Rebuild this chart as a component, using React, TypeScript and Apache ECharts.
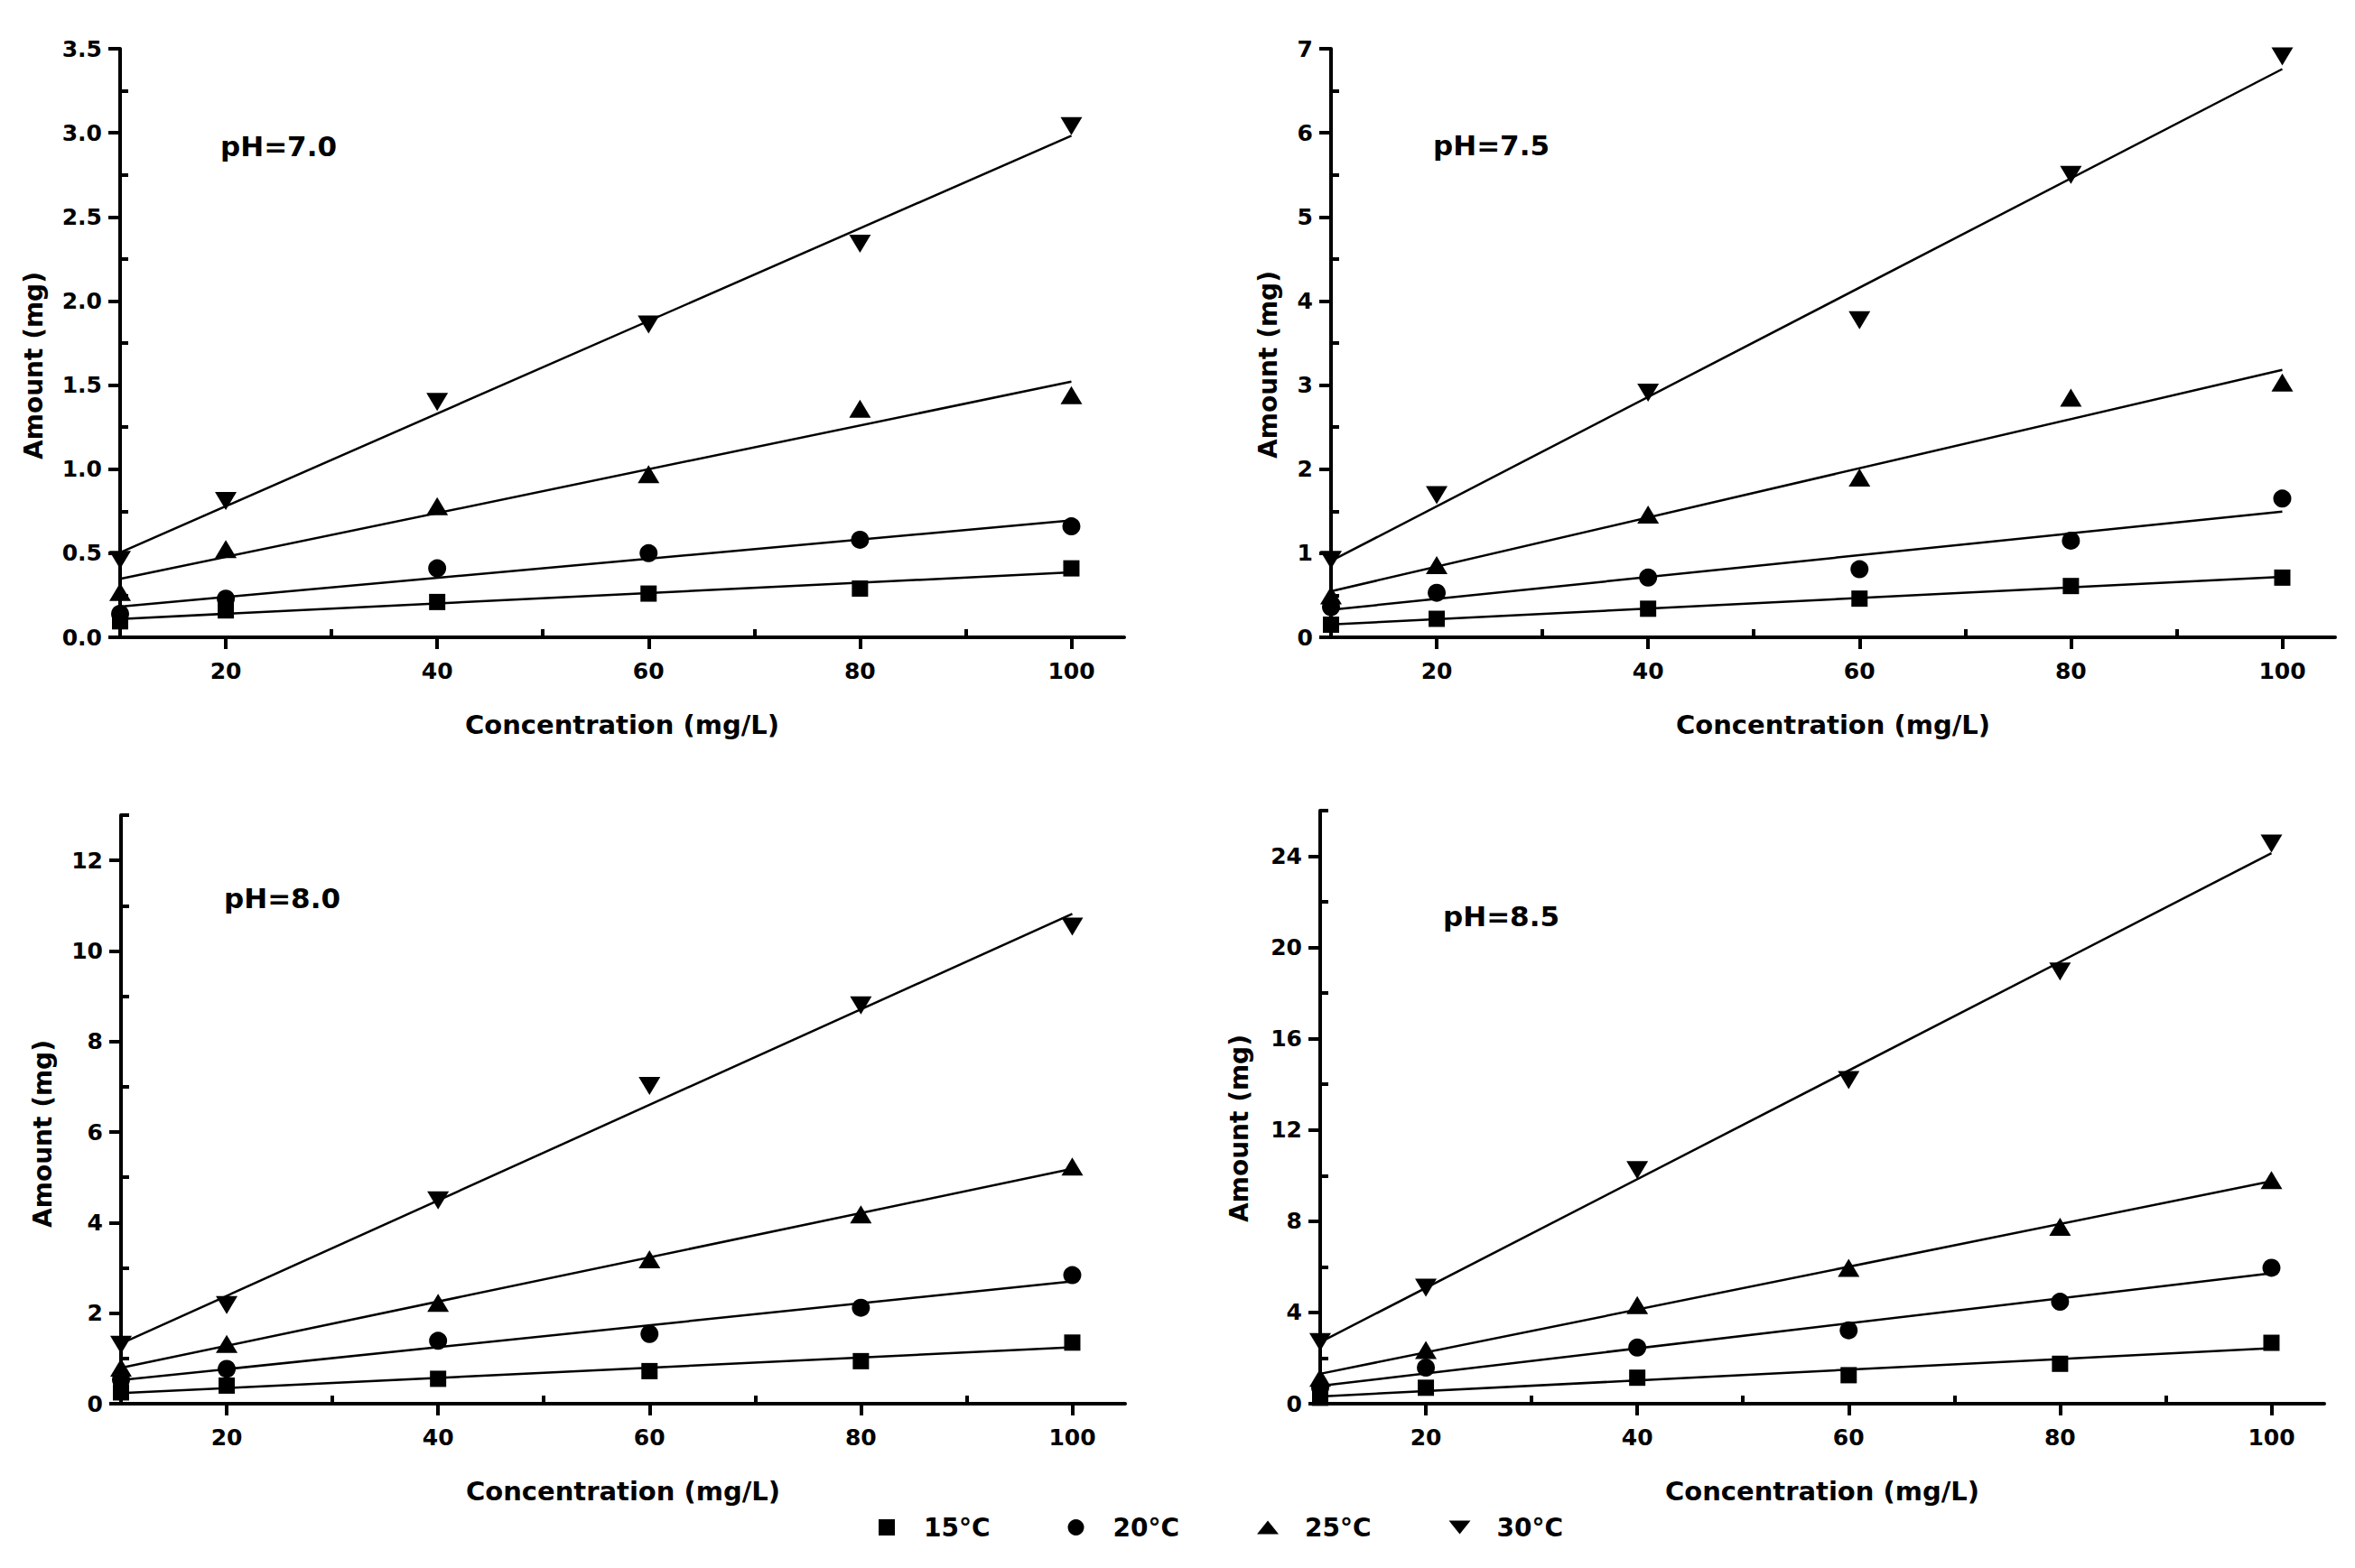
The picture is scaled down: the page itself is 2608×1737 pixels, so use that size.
import React, { useEffect, useRef } from 'react';
import * as echarts from 'echarts';

// shared x values (initial concentration, mg/L) and series names
const concentrations = [10, 20, 40, 60, 80, 100];
const temperatures = ['15°C', '20°C', '25°C', '30°C'];
const panelLabels = ['pH=7.0', 'pH=7.5', 'pH=8.0', 'pH=8.5'];

// x axis ticks (same on every panel)
const xMajorTicks = [20, 40, 60, 80, 100];
const xMinorTicks = [30, 50, 70, 90];

// y axis ticks per panel
const yMajor70 = [0, 0.5, 1, 1.5, 2, 2.5, 3, 3.5];
const yMinor70 = [0.25, 0.75, 1.25, 1.75, 2.25, 2.75, 3.25];
const yMajor75 = [0, 1, 2, 3, 4, 5, 6, 7];
const yMinor75 = [0.5, 1.5, 2.5, 3.5, 4.5, 5.5, 6.5];
const yMajor80 = [0, 2, 4, 6, 8, 10, 12];
const yMinor80 = [1, 3, 5, 7, 9, 11, 13];
const yMajor85 = [0, 4, 8, 12, 16, 20, 24];
const yMinor85 = [2, 6, 10, 14, 18, 22, 26];
const yMaxima = [3.5, 7, 13, 26];

// amount (mg) at pH 7.0
const ph70T15 = [0.095, 0.16, 0.21, 0.26, 0.29, 0.41];
const ph70T20 = [0.14, 0.23, 0.41, 0.5, 0.58, 0.66];
const ph70T25 = [0.27, 0.525, 0.78, 0.97, 1.36, 1.44];
const ph70T30 = [0.46, 0.81, 1.4, 1.86, 2.34, 3.04];

// amount (mg) at pH 7.5
const ph75T15 = [0.15, 0.22, 0.34, 0.46, 0.61, 0.71];
const ph75T20 = [0.36, 0.53, 0.71, 0.81, 1.15, 1.65];
const ph75T25 = [0.5, 0.86, 1.46, 1.9, 2.85, 3.03];
const ph75T30 = [0.92, 1.69, 2.91, 3.77, 5.5, 6.91];

// amount (mg) at pH 8.0
const ph80T15 = [0.25, 0.4, 0.55, 0.72, 0.94, 1.35];
const ph80T20 = [0.53, 0.77, 1.39, 1.54, 2.12, 2.84];
const ph80T25 = [0.8, 1.32, 2.23, 3.19, 4.18, 5.24];
const ph80T30 = [1.3, 2.18, 4.49, 7.02, 8.8, 10.54];

// amount (mg) at pH 8.5
const ph85T15 = [0.26, 0.7, 1.14, 1.25, 1.75, 2.67];
const ph85T20 = [0.7, 1.58, 2.46, 3.22, 4.47, 5.96];
const ph85T25 = [1.14, 2.35, 4.32, 5.96, 7.76, 9.8];
const ph85T30 = [2.7, 5.09, 10.24, 14.19, 18.95, 24.56];

const panelSeries = [
  [ph70T15, ph70T20, ph70T25, ph70T30],
  [ph75T15, ph75T20, ph75T25, ph75T30],
  [ph80T15, ph80T20, ph80T25, ph80T30],
  [ph85T15, ph85T20, ph85T25, ph85T30],
];
const panelMajor = [yMajor70, yMajor75, yMajor80, yMajor85];
const panelMinor = [yMinor70, yMinor75, yMinor80, yMinor85];

const FONT = '"DejaVu Sans", "Liberation Sans", Arial, sans-serif';

const grids = [
  { left: 133, top: 54, width: 1112, height: 652 },
  { left: 1474, top: 54, width: 1112, height: 652 },
  { left: 134, top: 903, width: 1112, height: 652 },
  { left: 1462, top: 898, width: 1112, height: 657 },
];
const phLabelPos = [
  [244, 162],
  [1587, 161],
  [248, 995],
  [1598, 1015],
];
const yTitlePos = [
  [37, 405],
  [1404, 404],
  [47, 1256],
  [1372, 1250],
];

const symbols = ['rect', 'circle', 'triangle', 'triangle'];
const symbolRotates = [0, 0, 0, 180];
const symbolSizes: any[] = [18, 20, [24, 20], [24, 20]];
const legendIcons = [
  'path://M0,0H10V10H0Z',
  'circle',
  'path://M0,17L13.5,0L27,17Z',
  'path://M0,0L27,0L13.5,17Z',
];

// least squares straight line through the points
const linearFit = (xs: number[], ys: number[]) => {
  const n = xs.length;
  const mx = xs.reduce((a, b) => a + b, 0) / n;
  const my = ys.reduce((a, b) => a + b, 0) / n;
  let sxy = 0;
  let sxx = 0;
  xs.forEach((x, i) => {
    sxy += (x - mx) * (ys[i] - my);
    sxx += (x - mx) * (x - mx);
  });
  const slope = sxy / sxx;
  const intercept = my - slope * mx;
  return (x: number) => intercept + slope * x;
};

const tickLine = { color: '#000', width: 4 };
const boldText = { color: '#000', fontFamily: FONT, fontWeight: 'bold' as const };

const App: React.FC = () => {
  const chartRef = useRef<HTMLDivElement>(null);

  useEffect(() => {
    if (!chartRef.current) return;
    const chart = echarts.init(chartRef.current, undefined, { renderer: 'svg' });

    const xAxes: any[] = [];
    const yAxes: any[] = [];
    const series: any[] = [];
    const graphics: any[] = [];

    grids.forEach((_, p) => {
      xAxes.push({
        type: 'value',
        gridIndex: p,
        min: 10,
        max: 105,
        position: 'bottom',
        name: 'Concentration (mg/L)',
        nameLocation: 'middle',
        nameGap: 82,
        nameTextStyle: { ...boldText, fontSize: 29 },
        axisLine: { show: true, onZero: false, lineStyle: tickLine },
        axisTick: { show: true, inside: false, length: 13, customValues: xMajorTicks, lineStyle: tickLine },
        axisLabel: { show: true, customValues: xMajorTicks, margin: 25, ...boldText, fontSize: 25 },
        splitLine: { show: false },
      });
      xAxes.push({
        type: 'value',
        gridIndex: p,
        min: 10,
        max: 105,
        position: 'bottom',
        axisLine: { show: false },
        axisTick: { show: true, inside: true, length: 9, customValues: xMinorTicks, lineStyle: tickLine },
        axisLabel: { show: false },
        splitLine: { show: false },
      });
      yAxes.push({
        type: 'value',
        gridIndex: p,
        min: 0,
        max: yMaxima[p],
        position: 'left',
        axisLine: { show: true, onZero: false, lineStyle: tickLine },
        axisTick: { show: true, inside: false, length: 13, customValues: panelMajor[p], lineStyle: tickLine },
        axisLabel: {
          show: true,
          customValues: panelMajor[p],
          margin: 20,
          ...boldText,
          fontSize: 25,
          formatter: (v: number) => (p === 0 ? v.toFixed(1) : String(v)),
        },
        splitLine: { show: false },
      });
      yAxes.push({
        type: 'value',
        gridIndex: p,
        min: 0,
        max: yMaxima[p],
        position: 'left',
        axisLine: { show: false },
        axisTick: { show: true, inside: true, length: 9, customValues: panelMinor[p], lineStyle: tickLine },
        axisLabel: { show: false },
        splitLine: { show: false },
      });

      panelSeries[p].forEach((values, t) => {
        const fit = linearFit(concentrations, values);
        const x0 = concentrations[0];
        const x1 = concentrations[concentrations.length - 1];
        series.push({
          type: 'line',
          name: `${temperatures[t]} fit`,
          xAxisIndex: 2 * p,
          yAxisIndex: 2 * p,
          data: [
            [x0, fit(x0)],
            [x1, fit(x1)],
          ],
          symbol: 'none',
          silent: true,
          lineStyle: { color: '#000', width: 2.5 },
          z: 2,
        });
      });
      panelSeries[p].forEach((values, t) => {
        series.push({
          type: 'scatter',
          name: temperatures[t],
          xAxisIndex: 2 * p,
          yAxisIndex: 2 * p,
          data: concentrations.map((c, i) => [c, values[i]]),
          symbol: symbols[t],
          symbolRotate: symbolRotates[t],
          symbolSize: symbolSizes[t],
          itemStyle: { color: '#000', opacity: 1 },
          z: 3,
        });
      });

      graphics.push({
        type: 'text',
        x: phLabelPos[p][0],
        y: phLabelPos[p][1],
        style: {
          text: panelLabels[p],
          fill: '#000',
          fontFamily: FONT,
          fontWeight: 'bold',
          fontSize: 31,
          align: 'left',
          verticalAlign: 'middle',
        },
      });
      graphics.push({
        type: 'text',
        x: yTitlePos[p][0],
        y: yTitlePos[p][1],
        rotation: Math.PI / 2,
        style: {
          text: 'Amount (mg)',
          fill: '#000',
          fontFamily: FONT,
          fontWeight: 'bold',
          fontSize: 28,
          align: 'center',
          verticalAlign: 'middle',
        },
      });
    });

    chart.setOption({
      animation: false,
      backgroundColor: '#fff',
      grid: grids.map(g => ({ ...g, containLabel: false, outerBoundsMode: 'none' })),
      xAxis: xAxes,
      yAxis: yAxes,
      legend: {
        data: temperatures.map((name, i) => ({ name, icon: legendIcons[i] })),
        left: 973,
        top: 1678,
        padding: 0,
        itemWidth: 24,
        itemHeight: 18,
        itemGap: 86,
        selectedMode: false,
        itemStyle: { color: '#000', opacity: 1 },
        textStyle: { ...boldText, fontSize: 28, padding: [0, 0, 0, 24] },
      },
      graphic: graphics,
      series,
    });

    return () => {
      chart.dispose();
    };
  }, []);

  return (
    <div
      ref={chartRef}
      style={{ position: 'absolute', left: 0, top: 0, width: '2608px', height: '1737px' }}
    />
  );
};

export default App;
